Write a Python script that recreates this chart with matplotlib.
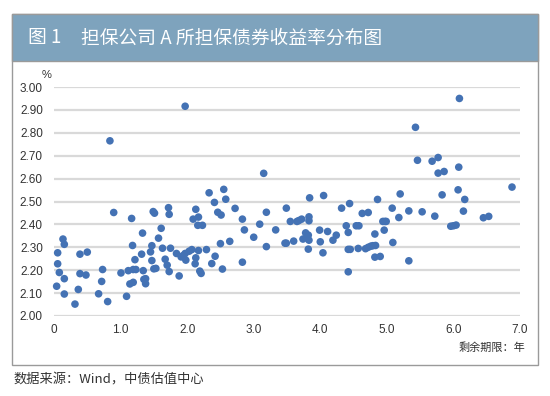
import matplotlib
matplotlib.use("Agg")
from matplotlib import pyplot as plt
from matplotlib.patches import Rectangle

plt.rcParams['font.family'] = ['Noto Sans CJK SC', 'DejaVu Sans']

# remaining maturity (years) and yield (%)
maturity = [
    0.04, 0.055, 0.055, 0.08, 0.135, 0.155, 0.155, 0.155, 0.315, 0.365,
    0.39, 0.39, 0.48, 0.50, 0.67, 0.716, 0.73, 0.806, 0.84, 0.897,
    1.006, 1.09, 1.116, 1.14, 1.166, 1.18, 1.19, 1.19, 1.216, 1.23,
    1.316, 1.33, 1.34, 1.35, 1.376, 1.376, 1.45, 1.47, 1.47, 1.49,
    1.50, 1.51, 1.53, 1.57, 1.61, 1.63, 1.67, 1.70, 1.72, 1.73,
    1.73, 1.75, 1.84, 1.88, 1.91,
    1.94, 1.97, 1.97, 1.98, 2.03, 2.07, 2.09, 2.13, 2.12, 2.13,
    2.17, 2.16, 2.17, 2.19, 2.23, 2.21,
    2.33, 2.41, 2.46, 2.51, 2.55, 2.58, 2.72, 2.83, 2.86, 2.83,
    3.00, 3.09, 3.15, 3.19, 3.19, 3.33, 3.47, 3.49, 3.49, 3.55,
    3.60, 3.65, 3.68, 3.72, 3.74, 3.78, 3.82, 3.83, 3.82, 3.83,
    3.83, 3.84, 3.99, 4.00, 4.04, 4.05, 4.11, 4.19, 4.24, 4.32,
    4.39, 4.42, 4.42, 4.44, 4.42, 4.45, 4.54, 4.58, 4.57,
    2.29, 2.37, 2.42, 2.50, 2.53, 2.64,
    4.63, 4.72, 4.68, 4.72, 4.76, 4.79, 4.83, 4.82, 4.82, 4.90,
    4.86, 4.94, 4.97, 4.99, 4.96, 5.08, 5.09, 5.18, 5.20, 5.33,
    5.33, 5.43, 5.46, 5.53, 5.68, 5.72, 5.77, 5.77, 5.83, 5.86,
    5.96, 6.00, 6.04, 6.07, 6.08, 6.09, 6.15, 6.17, 6.45, 6.53,
    6.88,
]
yields = [
    2.130, 2.276, 2.228, 2.190, 2.336, 2.313, 2.163, 2.096, 2.052, 2.116,
    2.270, 2.185, 2.179, 2.279, 2.097, 2.151, 2.203, 2.063, 2.765, 2.452,
    2.188, 2.086, 2.198, 2.140, 2.426, 2.308, 2.203, 2.147, 2.246, 2.203,
    2.270, 2.362, 2.198, 2.160, 2.163, 2.141, 2.280, 2.242, 2.307, 2.456,
    2.206, 2.449, 2.208, 2.340, 2.383, 2.296, 2.248, 2.222, 2.473, 2.444,
    2.194, 2.296, 2.273, 2.175, 2.258,
    2.264, 2.916, 2.273, 2.244, 2.283, 2.290, 2.423, 2.466, 2.228, 2.254,
    2.432, 2.396, 2.286, 2.196, 2.396, 2.186,
    2.538, 2.496, 2.453, 2.441, 2.553, 2.510, 2.470, 2.423, 2.376, 2.235,
    2.344, 2.401, 2.623, 2.453, 2.303, 2.376, 2.318, 2.318, 2.471, 2.413,
    2.327, 2.413, 2.417, 2.423, 2.336, 2.363, 2.353, 2.331, 2.292, 2.433,
    2.416, 2.516, 2.375, 2.324, 2.276, 2.526, 2.369, 2.331, 2.353, 2.471,
    2.394, 2.365, 2.193, 2.491, 2.291, 2.291, 2.394, 2.394, 2.295,
    2.290, 2.229, 2.261, 2.316, 2.205, 2.326,
    2.448, 2.452, 2.294, 2.300, 2.305, 2.307, 2.308, 2.358, 2.257, 2.260,
    2.509, 2.413, 2.413, 2.413, 2.375, 2.471, 2.321, 2.430, 2.533, 2.459,
    2.241, 2.824, 2.680, 2.455, 2.676, 2.436, 2.692, 2.624, 2.529, 2.631,
    2.392, 2.394, 2.397, 2.551, 2.650, 2.950, 2.458, 2.509, 2.429, 2.435,
    2.563,
]

y_ticks = [2.0, 2.1, 2.2, 2.3, 2.4, 2.5, 2.6, 2.7, 2.8, 2.9, 3.0]
x_ticks = [0, 1, 2, 3, 4, 5, 6, 7]
x_tick_labels = ['0', '1.0', '2.0', '3.0', '4.0', '5.0', '6.0', '7.0']

W, H = 550, 396
fig = plt.figure(figsize=(W / 100, H / 100), dpi=100)
fig.patch.set_facecolor('white')

# outer frame and title bar
fig.patches.append(Rectangle((12 / W, 1 - 365 / H), 526 / W, 351 / H,
                             transform=fig.transFigure, facecolor='white',
                             edgecolor='#9a9a9a', lw=1.0, zorder=0))
fig.patches.append(Rectangle((12 / W, 1 - 61 / H), 526 / W, 47 / H,
                             transform=fig.transFigure, facecolor='#7ea3bd',
                             edgecolor='#9a9a9a', lw=1.0, zorder=1))
fig.text(28 / W, 1 - 38 / H, '图 1', color='white', fontsize=13.5,
         va='center', ha='left')
fig.text(81 / W, 1 - 38 / H, '担保公司 A 所担保债券收益率分布图', color='white',
         fontsize=13.5, va='center', ha='left')

ax = fig.add_axes([54 / W, 1 - 316 / H, 466 / W, 229 / H])
ax.set_zorder(3)
ax.set_facecolor('none')
ax.set_xlim(0, 7)
ax.set_ylim(2.0, 3.0)
for v in y_ticks:
    ax.axhline(v, color='#d9d9d9', lw=1.6, zorder=1)
ax.scatter(maturity, yields, s=30, color='#4472b4', edgecolors='none',
           zorder=3, clip_on=False)

ax.set_yticks(y_ticks)
ax.set_yticklabels([f'{v:.2f}' for v in y_ticks], family='Liberation Sans')
ax.set_xticks(x_ticks)
ax.set_xticklabels(x_tick_labels, family='Liberation Sans')
ax.tick_params(length=0, labelsize=8.5, colors='#333333', pad=6)
ax.tick_params(axis='y', pad=8)
for s in ax.spines.values():
    s.set_visible(False)

fig.text(47 / W, 1 - 75 / H, '%', fontsize=8, color='#333333',
         ha='center', va='center', family='Liberation Sans')
fig.text(525 / W, 1 - 348 / H, '剩余期限：年', fontsize=8, color='#333333',
         ha='right', va='center')
fig.text(13 / W, 1 - 380 / H, '数据来源：Wind，中债估值中心', fontsize=9.5,
         color='#333333', ha='left', va='center')

plt.savefig('out.png', dpi=100)
